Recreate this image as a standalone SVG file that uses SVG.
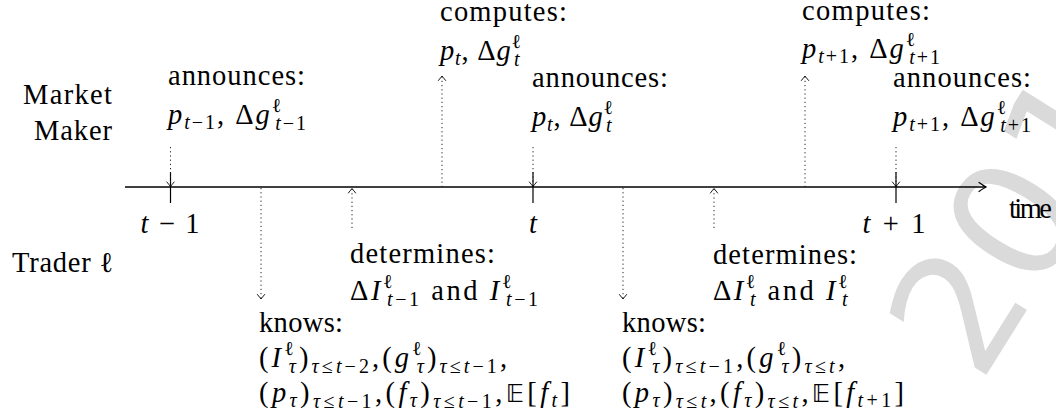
<svg xmlns="http://www.w3.org/2000/svg" width="1056" height="420" viewBox="0 0 1056 420">
<style>
.t { font-family: 'Liberation Serif', 'DejaVu Serif', serif; font-size: 28.5px; fill: #000; }
.i { font-style: italic; }
.s { font-size: 20px; }
.bb { font-family: 'DejaVu Sans', 'DejaVu Serif', sans-serif; font-size: 25px; }
.dot { stroke: #222; stroke-width: 1; stroke-dasharray: 1.2 3; fill: none; }
.tick { stroke: #000; stroke-width: 1.2; }
.axis { stroke: #000; stroke-width: 1.3; fill: none; }
.wm { font-family: 'DejaVu Sans', sans-serif; font-size: 165px; fill: #dadada; }
</style>
<defs>
<marker id="ah" viewBox="-6 -5 7 10" refX="0" refY="0" markerWidth="7" markerHeight="10" orient="auto" markerUnits="userSpaceOnUse">
<path d="M-4.5,-3.6 Q-1,-0.8 0,0 Q-1,0.8 -4.5,3.6" fill="none" stroke="#000" stroke-width="0.9" stroke-dasharray="none" stroke-linecap="round"/>
</marker>
<marker id="axh" viewBox="-9 -6 10 12" refX="0" refY="0" markerWidth="10" markerHeight="12" orient="auto" markerUnits="userSpaceOnUse">
<path d="M-7,-4.5 Q-2,-1 0,0 Q-2,1 -7,4.5" fill="none" stroke="#000" stroke-width="1.2" stroke-linecap="round"/>
</marker>
</defs>

<g id="watermark">
<text class="wm" transform="translate(980 385) rotate(-58)">2019</text>
</g>

<g id="connectors">
<line class="axis" x1="125" y1="187" x2="986" y2="187" marker-end="url(#axh)"/>
<line class="tick" x1="170.5" y1="172" x2="170.5" y2="203"/>
<line class="tick" x1="533" y1="172" x2="533" y2="203"/>
<line class="tick" x1="896" y1="172" x2="896" y2="203"/>
<line class="dot" x1="170.5" y1="147" x2="170.5" y2="186.5" marker-end="url(#ah)"/>
<line class="dot" x1="533" y1="147" x2="533" y2="186.5" marker-end="url(#ah)"/>
<line class="dot" x1="896" y1="147" x2="896" y2="186.5" marker-end="url(#ah)"/>
<line class="dot" x1="442" y1="187" x2="442" y2="76" marker-end="url(#ah)"/>
<line class="dot" x1="805" y1="187" x2="805" y2="76" marker-end="url(#ah)"/>
<line class="dot" x1="352" y1="228" x2="352" y2="188.5" marker-end="url(#ah)"/>
<line class="dot" x1="714" y1="228" x2="714" y2="188.5" marker-end="url(#ah)"/>
<line class="dot" x1="261" y1="188" x2="261" y2="299" marker-end="url(#ah)"/>
<line class="dot" x1="623" y1="188" x2="623" y2="299" marker-end="url(#ah)"/>
</g>

<g id="market-maker">
<text class="t" x="112" y="104" text-anchor="end" textLength="89">Market</text>
<text class="t" x="112" y="140" text-anchor="end" textLength="78">Maker</text>
</g>

<g id="trader">
<text class="t" x="113" y="272" text-anchor="end" textLength="101">Trader ℓ</text>
</g>

<g id="tick-labels">
<text class="t" x="170" y="233" text-anchor="middle" textLength="59"><tspan class="i">t</tspan> − 1</text>
<text class="t" x="533" y="233" text-anchor="middle"><tspan class="i">t</tspan></text>
<text class="t" x="894" y="233" text-anchor="middle" textLength="63"><tspan class="i">t</tspan> + 1</text>
<text class="t" x="1009" y="218" textLength="43">time</text>
</g>

<g id="announce-1">
<text class="t" x="168" y="85" textLength="137">announces:</text>
<text class="t" x="168" y="124" textLength="138"><tspan class="i">p</tspan><tspan class="s" dy="5"><tspan class="i">t</tspan>−1</tspan><tspan dy="-5">, Δ</tspan><tspan class="i">g</tspan><tspan class="s" dy="-12">ℓ</tspan><tspan class="s" dx="-8" dy="18"><tspan class="i">t</tspan>−1</tspan></text>
</g>

<g id="compute-1">
<text class="t" x="440" y="21" textLength="127">computes:</text>
<text class="t" x="440" y="60" textLength="82"><tspan class="i">p</tspan><tspan class="s i" dy="5">t</tspan><tspan dy="-5">, Δ</tspan><tspan class="i">g</tspan><tspan class="s" dy="-12">ℓ</tspan><tspan class="s i" dx="-8" dy="18">t</tspan></text>
</g>

<g id="announce-2">
<text class="t" x="532" y="87" textLength="136">announces:</text>
<text class="t" x="532" y="126" textLength="82"><tspan class="i">p</tspan><tspan class="s i" dy="5">t</tspan><tspan dy="-5">, Δ</tspan><tspan class="i">g</tspan><tspan class="s" dy="-12">ℓ</tspan><tspan class="s i" dx="-8" dy="18">t</tspan></text>
</g>

<g id="compute-2">
<text class="t" x="802" y="20" textLength="128">computes:</text>
<text class="t" x="802" y="58" textLength="138"><tspan class="i">p</tspan><tspan class="s" dy="5"><tspan class="i">t</tspan>+1</tspan><tspan dy="-5">, Δ</tspan><tspan class="i">g</tspan><tspan class="s" dy="-12">ℓ</tspan><tspan class="s" dx="-8" dy="18"><tspan class="i">t</tspan>+1</tspan></text>
</g>

<g id="announce-3">
<text class="t" x="893" y="87" textLength="138">announces:</text>
<text class="t" x="893" y="126" textLength="138"><tspan class="i">p</tspan><tspan class="s" dy="5"><tspan class="i">t</tspan>+1</tspan><tspan dy="-5">, Δ</tspan><tspan class="i">g</tspan><tspan class="s" dy="-12">ℓ</tspan><tspan class="s" dx="-8" dy="18"><tspan class="i">t</tspan>+1</tspan></text>
</g>

<g id="determine-1">
<text class="t" x="350" y="263" textLength="145">determines:</text>
<text class="t" x="350" y="300" textLength="188">Δ<tspan class="i">I</tspan><tspan class="s" dy="-12">ℓ</tspan><tspan class="s" dx="-8" dy="18"><tspan class="i">t</tspan>−1</tspan><tspan dy="-6"> and </tspan><tspan class="i">I</tspan><tspan class="s" dy="-12">ℓ</tspan><tspan class="s" dx="-8" dy="18"><tspan class="i">t</tspan>−1</tspan></text>
</g>

<g id="determine-2">
<text class="t" x="713" y="264" textLength="144">determines:</text>
<text class="t" x="713" y="300" textLength="137">Δ<tspan class="i">I</tspan><tspan class="s" dy="-12">ℓ</tspan><tspan class="s i" dx="-8" dy="18">t</tspan><tspan dy="-6"> and </tspan><tspan class="i">I</tspan><tspan class="s" dy="-12">ℓ</tspan><tspan class="s i" dx="-8" dy="18">t</tspan></text>
</g>

<g id="knows-1">
<text class="t" x="259" y="332" textLength="84">knows:</text>
<text class="t" x="259" y="367" textLength="248">(<tspan class="i">I</tspan><tspan class="s" dy="-12">ℓ</tspan><tspan class="s i" dx="-8" dy="18">τ</tspan><tspan dy="-6">)</tspan><tspan class="s" dy="6"><tspan class="i">τ</tspan>≤<tspan class="i">t</tspan>−2</tspan><tspan dy="-6">,(</tspan><tspan class="i">g</tspan><tspan class="s" dy="-12">ℓ</tspan><tspan class="s i" dx="-8" dy="18">τ</tspan><tspan dy="-6">)</tspan><tspan class="s" dy="6"><tspan class="i">τ</tspan>≤<tspan class="i">t</tspan>−1</tspan><tspan dy="-6">,</tspan></text>
<text class="t" x="259" y="402" textLength="311">(<tspan class="i">p</tspan><tspan class="s i" dy="5">τ</tspan><tspan dy="-5">)</tspan><tspan class="s" dy="6"><tspan class="i">τ</tspan>≤<tspan class="i">t</tspan>−1</tspan><tspan dy="-6">,(</tspan><tspan class="i">f</tspan><tspan class="s i" dy="5">τ</tspan><tspan dy="-5">)</tspan><tspan class="s" dy="6"><tspan class="i">τ</tspan>≤<tspan class="i">t</tspan>−1</tspan><tspan dy="-6">,</tspan><tspan class="bb">𝔼</tspan>[<tspan class="i">f</tspan><tspan class="s i" dy="5">t</tspan><tspan dy="-5">]</tspan></text>
</g>

<g id="knows-2">
<text class="t" x="622" y="332" textLength="84">knows:</text>
<text class="t" x="622" y="367" textLength="223">(<tspan class="i">I</tspan><tspan class="s" dy="-12">ℓ</tspan><tspan class="s i" dx="-8" dy="18">τ</tspan><tspan dy="-6">)</tspan><tspan class="s" dy="6"><tspan class="i">τ</tspan>≤<tspan class="i">t</tspan>−1</tspan><tspan dy="-6">,(</tspan><tspan class="i">g</tspan><tspan class="s" dy="-12">ℓ</tspan><tspan class="s i" dx="-8" dy="18">τ</tspan><tspan dy="-6">)</tspan><tspan class="s" dy="6"><tspan class="i">τ</tspan>≤<tspan class="i">t</tspan></tspan><tspan dy="-6">,</tspan></text>
<text class="t" x="622" y="402" textLength="282">(<tspan class="i">p</tspan><tspan class="s i" dy="5">τ</tspan><tspan dy="-5">)</tspan><tspan class="s" dy="6"><tspan class="i">τ</tspan>≤<tspan class="i">t</tspan></tspan><tspan dy="-6">,(</tspan><tspan class="i">f</tspan><tspan class="s i" dy="5">τ</tspan><tspan dy="-5">)</tspan><tspan class="s" dy="6"><tspan class="i">τ</tspan>≤<tspan class="i">t</tspan></tspan><tspan dy="-6">,</tspan><tspan class="bb">𝔼</tspan>[<tspan class="i">f</tspan><tspan class="s" dy="5"><tspan class="i">t</tspan>+1</tspan><tspan dy="-5">]</tspan></text>
</g>
</svg>
